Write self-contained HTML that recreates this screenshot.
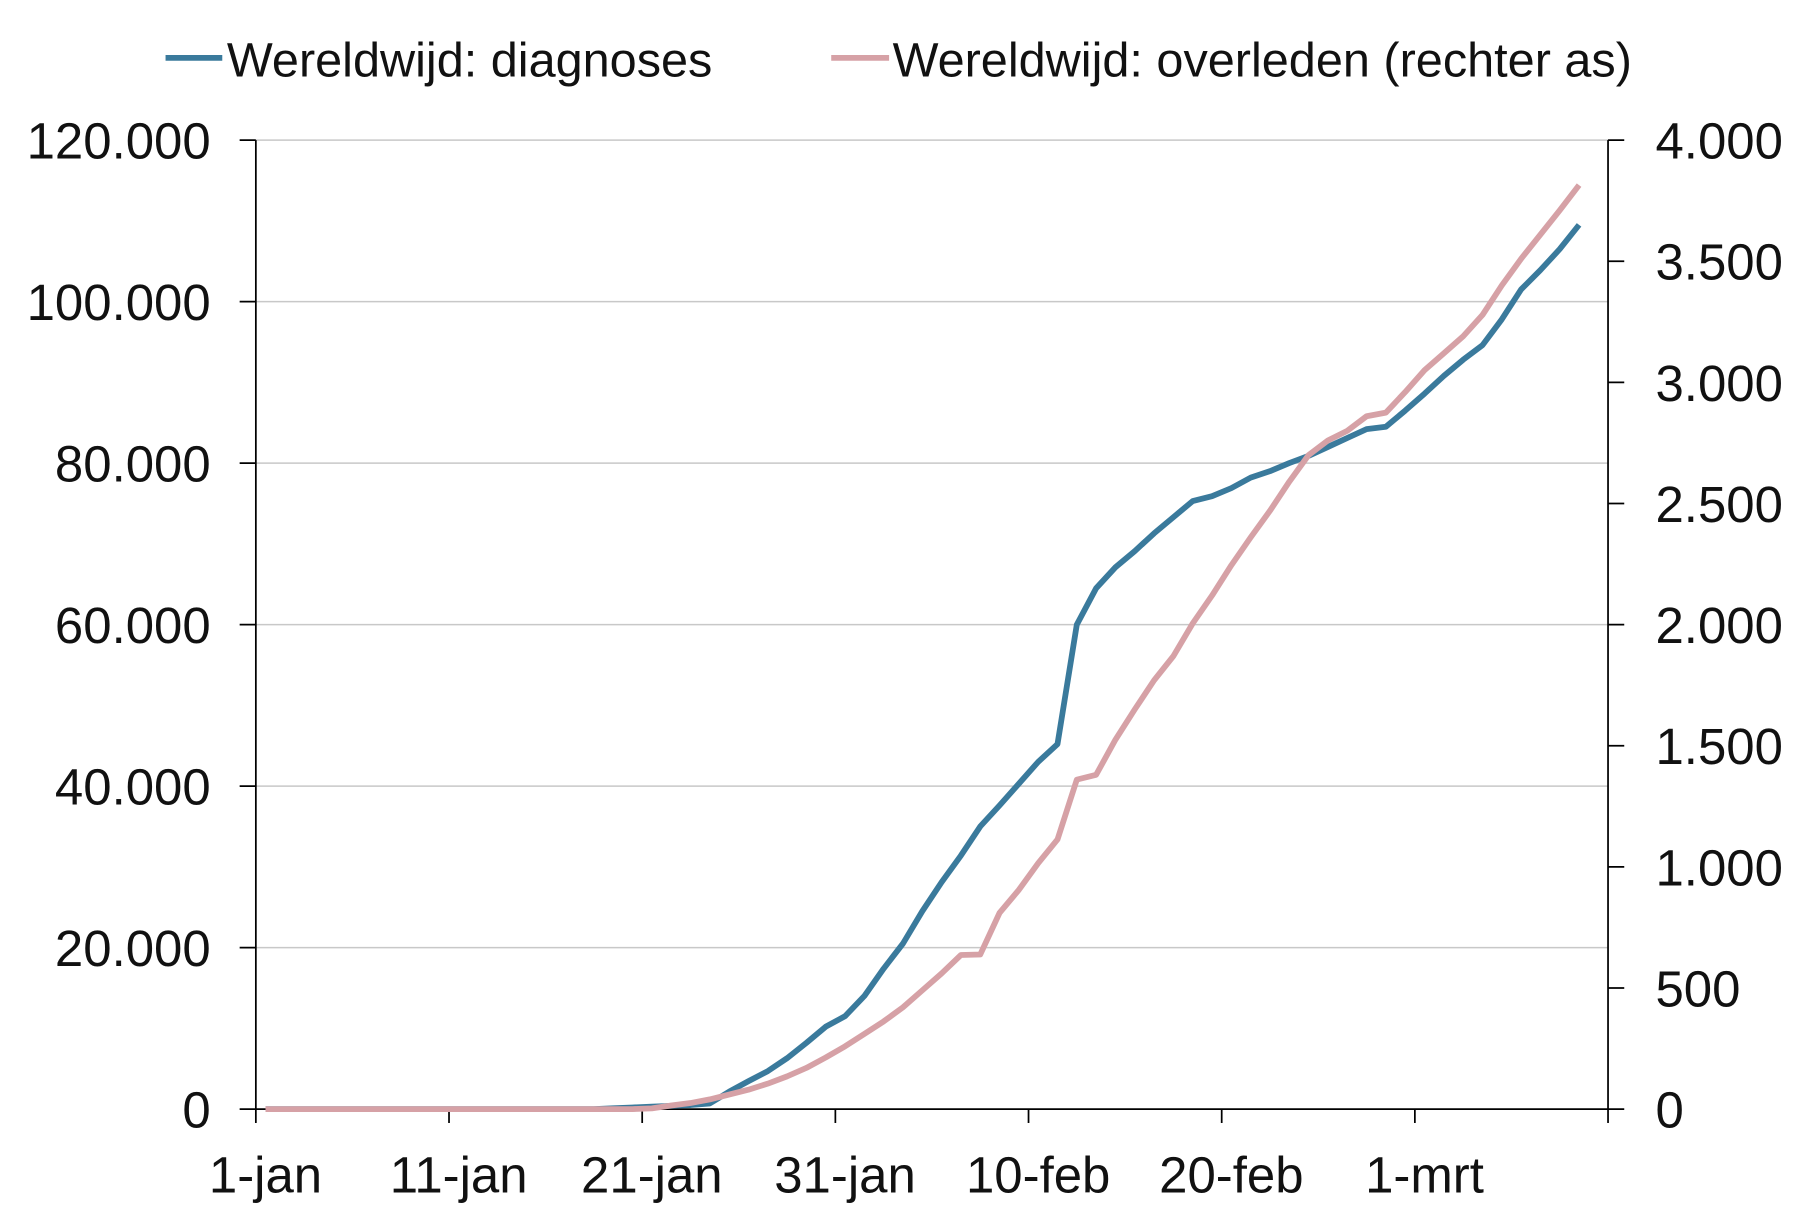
<!DOCTYPE html>
<html><head><meta charset="utf-8"><style>
html,body{margin:0;padding:0;background:#fff}
svg{display:block}
text{font-family:"Liberation Sans",Arial,sans-serif;fill:#111}
</style></head><body>
<svg id="chart" width="1806" height="1209" viewBox="0 0 1560 1044.3" preserveAspectRatio="none" xmlns="http://www.w3.org/2000/svg">
<g id="grid"></g>
<g id="axes"></g>
<g id="series"></g>
<g id="legend">
  <line x1="143" y1="50" x2="192" y2="50" stroke="#3a7a9c" stroke-width="5"/>
  <text x="196" y="66" font-size="42">Wereldwijd: diagnoses</text>
  <line x1="718" y1="50" x2="768" y2="50" stroke="#d6a1a6" stroke-width="5"/>
  <text x="771" y="66" font-size="42">Wereldwijd: overleden (rechter as)</text>
</g>
</svg>
<script>
const xLabels = ["1-jan","11-jan","21-jan","31-jan","10-feb","20-feb","1-mrt"];
const leftTicks = [0,20000,40000,60000,80000,100000,120000];
const leftTickLabels = ["0","20.000","40.000","60.000","80.000","100.000","120.000"];
const rightTicks = [0,500,1000,1500,2000,2500,3000,3500,4000];
const rightTickLabels = ["0","500","1.000","1.500","2.000","2.500","3.000","3.500","4.000"];
const diagnoses = [0,0,0,0,0,0,0,0,0,0,0,0,0,0,0,0,0,0,100,200,300,400,500,700,2150,3450,4700,6300,8200,10200,11500,14000,17400,20500,24500,28100,31400,35000,37600,40300,43000,45200,60000,64500,67100,69100,71300,73300,75300,75900,76900,78200,79000,80000,80900,82000,83100,84200,84500,86500,88600,90800,92800,94600,97800,101500,103900,106500,109500];
const deaths = [0,0,0,0,0,0,0,0,0,0,0,0,0,0,0,0,0,0,0,0,3,15,25,40,60,80,105,135,170,213,259,310,362,420,490,560,636,638,810,905,1015,1113,1360,1380,1525,1650,1770,1870,2005,2120,2245,2360,2470,2590,2700,2760,2800,2860,2875,2960,3050,3120,3190,3278,3400,3510,3610,3710,3814];

const NS="http://www.w3.org/2000/svg";
const L=221,R=1389,T=121,B=958,NCAT=70;
const catW=(R-L)/NCAT;
const xPos=i=>L+catW*(i+0.5);
const yLeft=v=>B-(v/120000)*(B-T);
const yRight=v=>B-(v/4000)*(B-T);
function mk(tag,attrs,parent,txt){const e=document.createElementNS(NS,tag);for(const k in attrs)e.setAttribute(k,attrs[k]);if(txt!==undefined)e.textContent=txt;parent.appendChild(e);return e;}
const grid=document.getElementById('grid'),axes=document.getElementById('axes'),series=document.getElementById('series');

leftTicks.forEach((v,i)=>{
  const y=yLeft(v);
  if(v>0){const g=mk('line',{x1:L,x2:R,y1:y,y2:y,stroke:'#c8c8c8','stroke-width':1.3},grid);
  
  }
  const t=mk('line',{x1:207,x2:L,y1:y,y2:y,stroke:'#000','stroke-width':1.5},axes);
  
  
  const lb=mk('text',{x:182,y:y+16,'font-size':44,'text-anchor':'end'},axes,leftTickLabels[i]);
  
  
});
rightTicks.forEach((v,i)=>{
  const y=yRight(v);
  const t=mk('line',{x1:R,x2:1403,y1:y,y2:y,stroke:'#000','stroke-width':1.5},axes);
  
  
  const lb=mk('text',{x:1430,y:y+16,'font-size':44},axes,rightTickLabels[i]);
  
  
});
for(let k=0;k<=7;k++){
  const x=L+catW*10*k;
  const t=mk('line',{x1:x,x2:x,y1:B,y2:970,stroke:'#000','stroke-width':1.5},axes);
  
  
}
xLabels.forEach((s,k)=>{
  const lb=mk('text',{x:xPos(k*10),y:1030,'font-size':44,'text-anchor':'middle'},axes,s);
  
  
});
const ax1=mk('line',{x1:L,x2:L,y1:T,y2:B,stroke:'#000','stroke-width':1.5},axes);


const ax2=mk('line',{x1:R,x2:R,y1:T,y2:B,stroke:'#000','stroke-width':1.5},axes);


const ax3=mk('line',{x1:L,x2:R,y1:B,y2:B,stroke:'#000','stroke-width':1.5},axes);



const pBlue=mk('polyline',{points:diagnoses.map((v,i)=>xPos(i)+','+yLeft(v)).join(' '),fill:'none',stroke:'#3a7a9c','stroke-width':5,'stroke-linejoin':'round'},series);


const pPink=mk('polyline',{points:deaths.map((v,i)=>xPos(i)+','+yRight(v)).join(' '),fill:'none',stroke:'#d6a1a6','stroke-width':5,'stroke-linejoin':'round'},series);


</script>
</body></html>
